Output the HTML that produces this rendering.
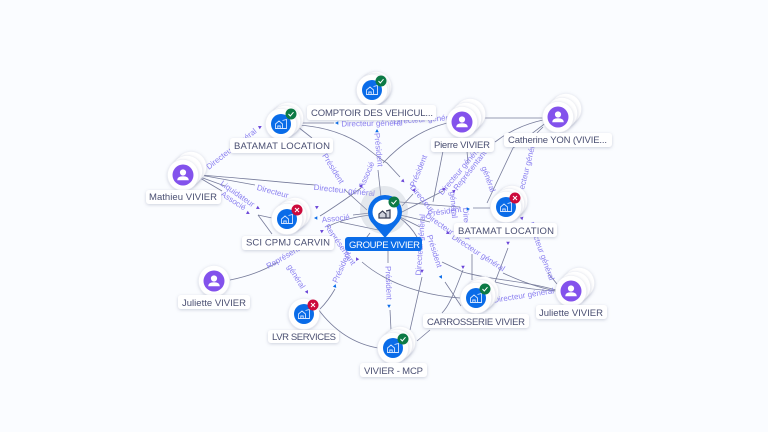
<!DOCTYPE html>
<html><head><meta charset="utf-8"><style>
html,body{margin:0;padding:0;background:#fafcff}
svg{display:block;font-family:"Liberation Sans",sans-serif;filter:blur(.3px)}
.e{fill:none;stroke:#767b9a;stroke-width:.8}
.t text{font-size:8px;fill:#8a7ff0;text-anchor:middle}
.a{fill:#6a45d8}
.a2{fill:#0a6ce8}
.s{fill:#fff;stroke:#eceef4;stroke-width:.5;filter:url(#sh)}
.lb{fill:#fff;filter:url(#sh)}
.n{font-size:9.5px;fill:#4a4f72}
</style></head><body>
<svg width="768" height="432" viewBox="0 0 768 432" xmlns="http://www.w3.org/2000/svg">
<defs>
<filter id="sh" x="-30%" y="-30%" width="160%" height="170%"><feDropShadow dx="0" dy="1" stdDeviation="1.500" flood-color="#7880a0" flood-opacity=".35"/></filter>
<g id="b"><circle r="10" fill="#0a6ce8"/><path d="M-5.500 4.500V0L-2-3L1.500 0V4.500ZM1.500-3.500L5.500-4.500V4.500H1.500M-3.200 4.500V2H-.8V4.500" fill="none" stroke="#d5e5ff" stroke-width=".9"/></g>
<g id="p"><circle r="10.500" fill="#8352ec"/><circle cy="-2.500" r="3.100" fill="#fff"/><path d="M-5.800 5.300Q-5.800 1.200 0 1.200T5.800 5.300Z" fill="#fff"/></g>
<g id="ok"><circle r="5.500" fill="#0c7a45"/><path d="M-2.500 0L-.7 2L2.500-1.800" fill="none" stroke="#fff" stroke-width="1"/></g>
<g id="ko"><circle r="5.500" fill="#cc0a3c"/><path d="M-2-2L2 2M2-2L-2 2" stroke="#fff" stroke-width="1"/></g>
<path id="tr" d="M0-2L1.800 1.300H-1.800Z"/>
</defs>
<rect width="768" height="432" fill="#fafcff"/>

<!-- top -->
<path class="e" d="M298 123H334"/>
<path class="e" d="M298 125C330 127 355 138 373 153C378 157 382 160 387 163L400 177"/>
<path class="e" d="M298 127L312 138"/>
<path class="e" d="M345 190L367 210"/>
<path class="e" d="M378 170L381 197"/>
<path class="e" d="M447 123C420 130 400 145 383 163"/>
<path class="e" d="M361 188C345 200 325 213 320 216"/>
<path class="e" d="M485 118H543"/>
<path class="e" d="M543 120C525 124 508 132 495 142"/>
<path class="e" d="M547 122L513 148L487 203"/>
<path class="e" d="M543 127L537 133"/>
<path class="e" d="M443 151L433 202"/>
<path class="e" d="M467 151L468 163"/>
<path class="e" d="M402 206L413 194"/>
<!-- center right -->
<path class="e" d="M400 202L433 205L460 207"/>
<path class="e" d="M473 208H490"/>
<path class="e" d="M400 213L443 191"/>
<path class="e" d="M400 215L430 222"/>
<path class="e" d="M400 217L420 227"/>
<path class="e" d="M400 218C408 224 413 230 417 237"/>
<!-- mathieu -->
<path class="e" d="M200 175L255 185"/>
<path class="e" d="M200 175C240 178 280 182 315 185"/>
<path class="e" d="M200 177L225 186"/>
<path class="e" d="M200 178L222 191"/>
<path class="e" d="M258 215L272 218"/>
<path class="e" d="M258 215L272 234"/>
<!-- sci -->
<path class="e" d="M353 215L370 213"/>
<path class="e" d="M327 227C340 220 355 217 370 215"/>
<path class="e" d="M340 222L383 231"/>
<path class="e" d="M230 280C250 276 265 270 278 262"/>
<path class="e" d="M335 289C331 296 326 303 320 309"/>
<path class="e" d="M370 233L357 250"/>
<path class="e" d="M318 309C335 332 355 344 378 348"/>
<path class="e" d="M388 251V263"/>
<path class="e" d="M390 310L391 330"/>
<path class="e" d="M362 262C385 282 420 295 460 298"/>
<path class="e" d="M422 277L410 330"/>
<path class="e" d="M463 270C455 290 450 305 442 313"/>
<path class="e" d="M430 330L417 341"/>
<path class="e" d="M445 282L461 306"/>
<path class="e" d="M442 262L463 272C490 280 520 280 556 290"/>
<path class="e" d="M503 273C520 281 540 288 556 291"/>
<path class="e" d="M495 282C515 287 535 290 556 291"/>
<path class="e" d="M495 282L508 248"/>
<path class="e" d="M472 254V280"/>
<path class="e" d="M548 273L557 284"/>
<g class="t">
<text transform="translate(233 151) rotate(-38)">Directeur général</text>
<text transform="translate(372 126) rotate(-1)">Directeur général</text>
<text transform="translate(424 122) rotate(-4)">Directeur général</text>
<text transform="translate(331 170) rotate(58)">Président</text>
<text transform="translate(376 150) rotate(84)">Président</text>
<text transform="translate(369 176) rotate(-66)">Associé</text>
<text transform="translate(421 172) rotate(-68)">Président</text>
<text transform="translate(462 172) rotate(-50)">Directeur général</text>
<text transform="translate(472 172) rotate(-52)">Représentant</text>
<text transform="translate(486 180) rotate(70)">général</text>
<text transform="translate(529 170) rotate(-76)">Directeur général</text>
<text transform="translate(272 194) rotate(15)">Directeur</text>
<text transform="translate(344 193) rotate(6)">Directeur général</text>
<text transform="translate(236 196) rotate(35)">Liquidateur</text>
<text transform="translate(232 203) rotate(33)">Associé</text>
<text transform="translate(336 221) rotate(-6)">Associé</text>
<text transform="translate(445 214) rotate(-8)">Président</text>
<text transform="translate(420 200) rotate(50)">Directeur</text>
<text transform="translate(438 226) rotate(35)">Directeur</text>
<text transform="translate(477 255) rotate(33)">Directeur général</text>
<text transform="translate(539 252) rotate(70)">Directeur général</text>
<text transform="translate(524 298) rotate(-9)">Directeur général</text>
<text transform="translate(294 278) rotate(58)">général</text>
<text transform="translate(289 257) rotate(-30)">Représentant</text>
<text transform="translate(344 268) rotate(-66)">Président</text>
<text transform="translate(338 246) rotate(55)">Représentant</text>
<text transform="translate(386 283) rotate(88)">Président</text>
<text transform="translate(432 252) rotate(72)">Président</text>
<text transform="translate(423 245) rotate(-86)">Directeur général</text>
<text transform="translate(464 224) rotate(86)">Directeur</text>
<text transform="translate(451 205) rotate(85)">général</text>
</g>
<g class="a">
<use href="#tr" transform="translate(260 127) rotate(60)"/><use href="#tr" transform="translate(361 186) rotate(40)"/>
<use href="#tr" transform="translate(258 208) rotate(120)"/><use href="#tr" transform="translate(248 213) rotate(120)"/><use href="#tr" transform="translate(317 207) rotate(60)"/><use href="#tr" transform="translate(322 231) rotate(60)"/>
<use href="#tr" transform="translate(403 181) rotate(135)"/><use href="#tr" transform="translate(414 190) rotate(30)"/><use href="#tr" transform="translate(444 189) rotate(50)"/><use href="#tr" transform="translate(454 191) rotate(50)"/>
<use href="#tr" transform="translate(448 233) rotate(120)"/><use href="#tr" transform="translate(508 243) rotate(180)"/><use href="#tr" transform="translate(422 271) rotate(180)"/><use href="#tr" transform="translate(463 267) rotate(180)"/><use href="#tr" transform="translate(522 218) rotate(45)"/>
<use href="#tr" transform="translate(357 259) rotate(-30)"/><use href="#tr" transform="translate(307 292) rotate(150)"/>
</g>
<g class="a2">
<use href="#tr" transform="translate(337 123) rotate(-90)"/><use href="#tr" transform="translate(377 131)"/><use href="#tr" transform="translate(316 218) rotate(-90)"/><use href="#tr" transform="translate(468 209) rotate(90)"/>
<use href="#tr" transform="translate(441 277) rotate(150)"/><use href="#tr" transform="translate(335 286) rotate(20)"/><use href="#tr" transform="translate(389 306) rotate(180)"/>
</g>

<!-- COMPTOIR -->
<circle class="s" cx="376" cy="87" r="15.500"/><circle class="s" cx="374" cy="89" r="15.500"/><circle class="s" cx="372" cy="90" r="15.500"/>
<use href="#b" x="372" y="90"/><use href="#ok" x="381" y="81"/>
<rect class="lb" x="307" y="105" width="129" height="15" rx="3"/><text class="n" x="311" y="116" textLength="122">COMPTOIR DES VEHICUL...</text>
<!-- BATAMAT 1 -->
<circle class="s" cx="288" cy="118" r="15.500"/><circle class="s" cx="285" cy="121" r="15.500"/><circle class="s" cx="281" cy="124" r="15.500"/>
<use href="#b" x="281" y="124"/><use href="#ok" x="291" y="114"/>
<rect class="lb" x="230" y="138" width="103" height="15" rx="3"/><text class="n" x="234" y="149" textLength="96">BATAMAT LOCATION</text>
<!-- MATHIEU -->
<circle class="s" cx="191" cy="167" r="15.500"/><circle class="s" cx="187" cy="171" r="15.500"/><circle class="s" cx="183" cy="175" r="15.500"/>
<use href="#p" x="183" y="175"/>
<rect class="lb" x="146" y="190" width="75" height="14" rx="3"/><text class="n" x="149" y="200" textLength="68">Mathieu VIVIER</text>
<!-- SCI -->
<circle class="s" cx="295" cy="213" r="15.500"/><circle class="s" cx="291" cy="216" r="15.500"/><circle class="s" cx="287" cy="219" r="15.500"/>
<use href="#b" x="287" y="219"/><use href="#ko" x="297" y="210"/>
<rect class="lb" x="242" y="236" width="92" height="14" rx="3"/><text class="n" x="246" y="245.500" textLength="84">SCI CPMJ CARVIN</text>
<!-- PIERRE -->
<circle class="s" cx="470" cy="114" r="15.500"/><circle class="s" cx="466" cy="118" r="15.500"/><circle class="s" cx="462" cy="122" r="15.500"/>
<use href="#p" x="462" y="122"/>
<rect class="lb" x="431" y="138" width="63" height="14" rx="3"/><text class="n" x="434" y="148" textLength="56">Pierre VIVIER</text>
<!-- CATHERINE -->
<circle class="s" cx="566" cy="109" r="15.500"/><circle class="s" cx="562" cy="113" r="15.500"/><circle class="s" cx="558" cy="117" r="15.500"/>
<use href="#p" x="558" y="117"/>
<rect class="lb" x="504" y="133" width="108" height="14" rx="3"/><text class="n" x="508" y="143" textLength="99">Catherine YON (VIVIE...</text>
<!-- BATAMAT 2 -->
<circle class="s" cx="512" cy="201" r="15.500"/><circle class="s" cx="509" cy="204" r="15.500"/><circle class="s" cx="506" cy="207" r="15.500"/>
<use href="#b" x="506" y="207"/><use href="#ko" x="515" y="198"/>
<rect class="lb" x="454" y="223" width="103" height="14" rx="3"/><text class="n" x="458" y="234" textLength="96">BATAMAT LOCATION</text>
<!-- JULIETTE 1 -->
<circle class="s" cx="214" cy="281" r="15.500"/><use href="#p" x="214" y="281"/>
<rect class="lb" x="178" y="295" width="72" height="14" rx="3"/><text class="n" x="182" y="306" textLength="64">Juliette VIVIER</text>
<!-- LVR -->
<circle class="s" cx="304" cy="314" r="15.500"/><use href="#b" x="304" y="314"/><use href="#ko" x="313" y="305"/>
<rect class="lb" x="268" y="330" width="71" height="13" rx="3"/><text class="n" x="272" y="340" textLength="64">LVR SERVICES</text>
<!-- MCP -->
<circle class="s" cx="400" cy="342" r="15.500"/><circle class="s" cx="397" cy="345" r="15.500"/><circle class="s" cx="393" cy="348" r="15.500"/>
<use href="#b" x="393" y="348"/><use href="#ok" x="403" y="339"/>
<rect class="lb" x="360" y="363" width="67" height="14" rx="3"/><text class="n" x="364" y="374" textLength="59">VIVIER - MCP</text>
<!-- CARROSSERIE -->
<circle class="s" cx="483" cy="292" r="15.500"/><circle class="s" cx="480" cy="295" r="15.500"/><circle class="s" cx="476" cy="298" r="15.500"/>
<use href="#b" x="476" y="298"/><use href="#ok" x="485" y="289"/>
<rect class="lb" x="423" y="314" width="106" height="14" rx="3"/><text class="n" x="427" y="325" textLength="98">CARROSSERIE VIVIER</text>
<!-- JULIETTE 2 -->
<circle class="s" cx="579" cy="283" r="15.500"/><circle class="s" cx="575" cy="287" r="15.500"/><circle class="s" cx="571" cy="291" r="15.500"/>
<use href="#p" x="571" y="291"/>
<rect class="lb" x="536" y="305" width="71" height="14" rx="3"/><text class="n" x="539" y="316" textLength="64">Juliette VIVIER</text>
<!-- GROUPE -->
<circle cx="384" cy="210" r="24" fill="#b4b8c4" opacity=".3"/>
<path d="M385 238L373 224A17 17 0 1 1 397 224Z" fill="#0a6ce8"/>
<circle cx="385" cy="212" r="12.500" fill="#fff"/>
<path d="M379 218V214L382.500 211L386 214V218ZM386 211L390 210V218H386" fill="#cfd2dc" stroke="#3a3f55" stroke-width="1.200"/>
<use href="#ok" x="394" y="202"/>
<rect x="345" y="237" width="77" height="14" rx="3" fill="#0a6ce8"/>
<text x="349" y="248" font-size="9.500" fill="#fff" textLength="71">GROUPE VIVIER</text>
</svg>
</body></html>
